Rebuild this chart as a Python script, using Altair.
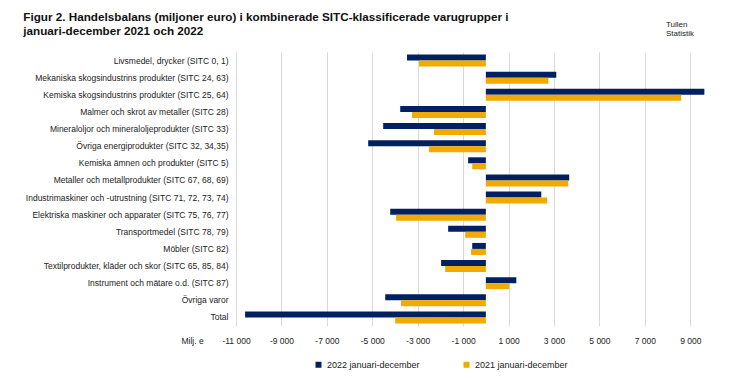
import altair as alt
import pandas as pd

categories = [
    "Livsmedel, drycker (SITC 0, 1)",
    "Mekaniska skogsindustrins produkter (SITC 24, 63)",
    "Kemiska skogsindustrins produkter (SITC 25, 64)",
    "Malmer och skrot av metaller (SITC 28)",
    "Mineraloljor och mineraloljeprodukter (SITC 33)",
    "Övriga energiprodukter (SITC 32, 34,35)",
    "Kemiska ämnen och produkter (SITC 5)",
    "Metaller och metallprodukter (SITC 67, 68, 69)",
    "Industrimaskiner och -utrustning (SITC 71, 72, 73, 74)",
    "Elektriska maskiner och apparater (SITC 75, 76, 77)",
    "Transportmedel (SITC 78, 79)",
    "Möbler (SITC 82)",
    "Textilprodukter, kläder och skor (SITC 65, 85, 84)",
    "Instrument och mätare o.d. (SITC 87)",
    "Övriga varor",
    "Total",
]
series = ["2022 januari-december", "2021 januari-december"]
values_2022 = [-3470, 3100, 9620, -3770, -4520, -5180, -780, 3670,
               2440, -4210, -1660, -600, -1970, 1340, -4430, -10600]
values_2021 = [-2940, 2750, 8600, -3250, -2280, -2500, -600, 3630,
               2700, -3950, -910, -650, -1790, 1030, -3730, -3990]
tick_values = [-11000, -9000, -7000, -5000, -3000, -1000, 1000, 3000, 5000, 7000, 9000]
colors = ["#002060", "#F2A900"]

rows = []
for c, a, b in zip(categories, values_2022, values_2021):
    rows.append({"cat": c, "serie": series[0], "v": a})
    rows.append({"cat": c, "serie": series[1], "v": b})
df = pd.DataFrame(rows)

FONT = "Liberation Sans"

bars = alt.Chart(df).mark_bar().encode(
    x=alt.X("v:Q",
            scale=alt.Scale(domain=[-11000, 10000], nice=False, zero=False),
            axis=alt.Axis(values=tick_values,
                          labelExpr="replace(replace(format(datum.value, ',d'), ',', ' '), '\u2212', '-')",
                          title="Milj. e", titleX=-55, titleY=14, titleAlign="left",
                          titleBaseline="middle", titleFontWeight="normal", titleFontSize=8.5,
                          titleFont=FONT, titleColor="#222",
                          grid=True, gridColor="#d9d9d9", gridWidth=1, domain=False,
                          ticks=False, labelPadding=10, labelFontSize=8.5, labelFont=FONT,
                          labelColor="#222", labelFlush=False, labelOverlap=False)),
    y=alt.Y("cat:N", sort=categories,
            scale=alt.Scale(paddingInner=0.3, paddingOuter=0.15),
            axis=alt.Axis(title=None, labelFontSize=8.5, labelFont=FONT, labelColor="#222",
                          labelPadding=8, ticks=False, domain=True, domainColor="#d9d9d9",
                          labelLimit=300)),
    yOffset=alt.YOffset("serie:N", sort=series),
    color=alt.Color("serie:N", sort=series,
                    scale=alt.Scale(domain=series, range=colors),
                    legend=alt.Legend(title=None, orient="none", direction="horizontal",
                                      legendX=78, legendY=308, symbolType="square",
                                      symbolSize=36, labelFontSize=9, labelFont=FONT,
                                      labelColor="#222", columnPadding=42, symbolStrokeWidth=0)),
)

note = alt.Chart(pd.DataFrame({"t": ["Tullen\nStatistik"]})).mark_text(
    align="left", baseline="middle", fontSize=8, font=FONT, color="#222", lineBreak="\n",
    lineHeight=9
).encode(text="t:N", x=alt.value(430), y=alt.value(-27))

chart = alt.layer(bars, note).properties(
    width=477,
    height=274,
    title=alt.TitleParams(
        ["Figur  2. Handelsbalans (miljoner euro) i kombinerade SITC-klassificerade varugrupper i",
         "januari-december 2021 och 2022"],
        anchor="start", frame="bounds", font=FONT, fontSize=11.7,
        fontWeight="bold", color="#111", offset=12, lineHeight=14, dx=-2, dy=29),
    autosize=alt.AutoSizeParams(type="none"),
    padding={"left": 228, "top": 44, "right": 16, "bottom": 44},
).configure_view(stroke=None)

chart.save("out.html", embed_options={"renderer": "svg", "actions": False})
